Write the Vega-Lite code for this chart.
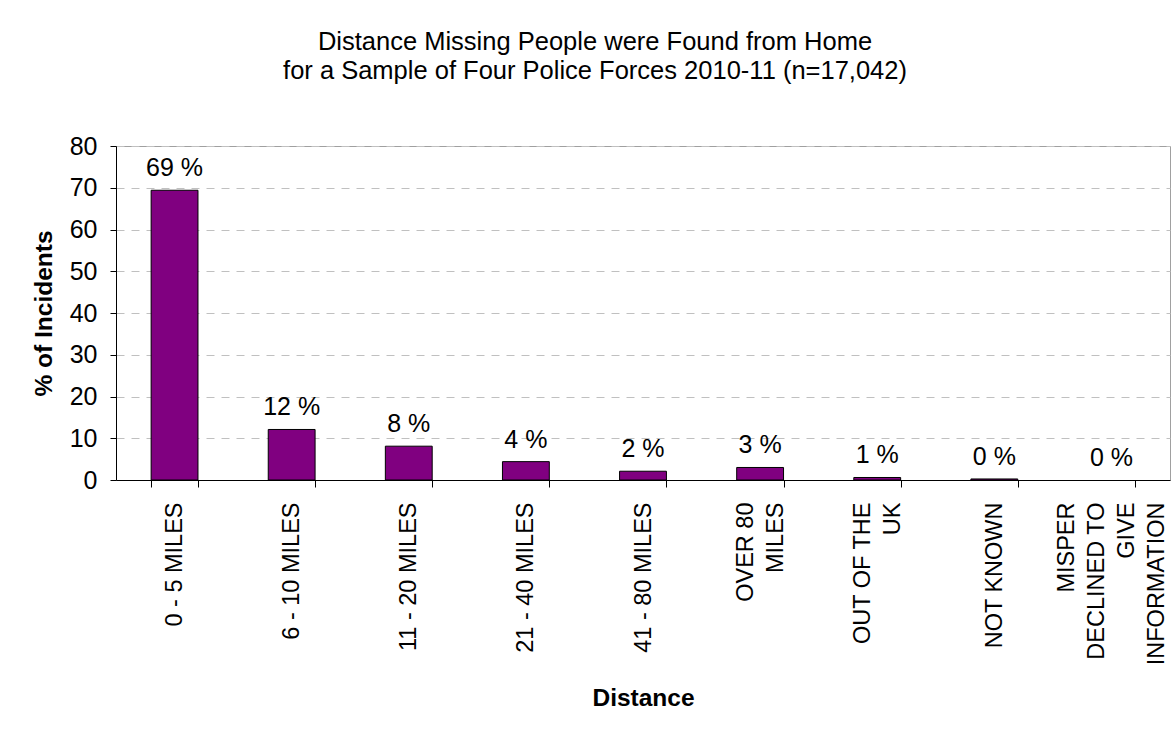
{
  "$schema": "https://vega.github.io/schema/vega-lite/v6.json",
  "autosize": {"type": "none"},
  "width": 1054,
  "height": 334,
  "padding": {"left": 116, "top": 146, "right": 1, "bottom": 249},
  "background": "white",
  "title": {
    "text": [
      "Distance Missing People were Found from Home",
      "for a Sample of Four Police Forces 2010-11 (n=17,042)"
    ],
    "font": "Liberation Sans",
    "fontSize": 25.5,
    "fontWeight": "normal",
    "color": "black",
    "anchor": "middle",
    "frame": "group",
    "lineHeight": 29,
    "offset": 50,
    "dx": -48
  },
  "data": {
    "values": [
      {"distance": "0 - 5 MILES", "pct": 69.4},
      {"distance": "6 - 10 MILES", "pct": 12.1},
      {"distance": "11 - 20 MILES", "pct": 8.1},
      {"distance": "21 - 40 MILES", "pct": 4.4},
      {"distance": "41 - 80 MILES", "pct": 2.1},
      {"distance": "OVER 80 MILES", "pct": 3.0},
      {"distance": "OUT OF THE UK", "pct": 0.6},
      {"distance": "NOT KNOWN", "pct": 0.25},
      {"distance": "MISPER DECLINED TO GIVE INFORMATION", "pct": 0}
    ]
  },
  "encoding": {
    "x": {
      "field": "distance",
      "type": "nominal",
      "sort": null,
      "scale": {"paddingInner": 0.6, "paddingOuter": 0.3},
      "axis": {
        "title": "Distance",
        "titleFont": "Liberation Sans",
        "titleFontSize": 24.5,
        "titleFontWeight": "bold",
        "titleColor": "black",
        "titleY": 218,
        "titleBaseline": "middle",
        "labelFont": "Liberation Sans",
        "labelFontSize": 23.5,
        "labelColor": "black",
        "labelAngle": -90,
        "labelAlign": "right",
        "labelBaseline": "middle",
        "labelLineHeight": 30,
        "labelPadding": 15,
        "labelOffset": {
          "condition": [
            {"test": "datum.value == 'MISPER DECLINED TO GIVE INFORMATION'", "value": -45},
            {"test": "datum.value == 'OVER 80 MILES' || datum.value == 'OUT OF THE UK'", "value": -15}
          ],
          "value": 0
        },
        "labelExpr": "datum.value == 'OVER 80 MILES' ? ['OVER 80', 'MILES'] : datum.value == 'OUT OF THE UK' ? ['OUT OF THE', 'UK'] : datum.value == 'MISPER DECLINED TO GIVE INFORMATION' ? ['MISPER', 'DECLINED TO', 'GIVE', 'INFORMATION'] : datum.value",
        "tickBand": "extent",
        "tickSize": 7,
        "tickColor": "black",
        "domainColor": "black",
        "labelOverlap": false,
        "labelLimit": 0
      }
    },
    "y": {
      "field": "pct",
      "type": "quantitative",
      "scale": {"domain": [0, 80], "nice": false},
      "axis": {
        "title": "% of Incidents",
        "titleFont": "Liberation Sans",
        "titleFontSize": 24.5,
        "titleFontWeight": "bold",
        "titleColor": "black",
        "titleX": -72,
        "titleY": 167,
        "titleAngle": -90,
        "titleAlign": "center",
        "titleBaseline": "middle",
        "values": [0, 10, 20, 30, 40, 50, 60, 70, 80],
        "labelFont": "Liberation Sans",
        "labelFontSize": 25,
        "labelColor": "black",
        "labelPadding": 13,
        "tickSize": 6,
        "tickColor": "black",
        "domainColor": "black",
        "grid": true,
        "gridColor": "#c0c0c0",
        "gridDash": [8, 7],
        "gridWidth": 1
      }
    }
  },
  "layer": [
    {
      "mark": {"type": "bar", "color": "#800080", "stroke": "black"},
      "encoding": {
        "strokeWidth": {"condition": {"test": "datum.pct == 0", "value": 0}, "value": 1}
      }
    },
    {
      "transform": [{"calculate": "format(datum.pct, '.0f') + ' %'", "as": "label"}],
      "mark": {
        "type": "text",
        "font": "Liberation Sans",
        "fontSize": 25,
        "color": "black",
        "baseline": "alphabetic",
        "dy": -14
      },
      "encoding": {"text": {"field": "label"}}
    }
  ],
  "config": {
    "view": {"stroke": "#a0a0a0", "strokeWidth": 1}
  }
}
